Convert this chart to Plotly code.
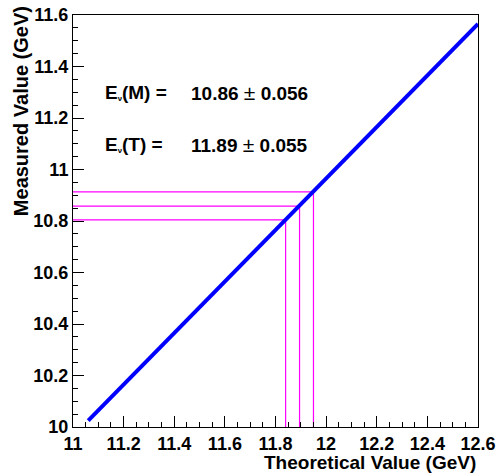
import plotly.graph_objects as go

# Data
line_x = [11.06, 12.6]
line_y = [10.025, 11.565]
mark_x = [11.84, 11.895, 11.95]
mark_y = [10.804, 10.858, 10.913]
x_range = [11.0, 12.6]
y_range = [10.0, 11.6]
x_ticks = [11.0, 11.2, 11.4, 11.6, 11.8, 12.0, 12.2, 12.4, 12.6]
x_ticklabels = ["11", "11.2", "11.4", "11.6", "11.8", "12", "12.2", "12.4", "12.6"]
y_ticks = [10.0, 10.2, 10.4, 10.6, 10.8, 11.0, 11.2, 11.4, 11.6]
y_ticklabels = ["10", "10.2", "10.4", "10.6", "10.8", "11", "11.2", "11.4", "11.6"]
labels = ["E<span style='font-size:11px'><sub>ν</sub></span>(M) =",
          "E<span style='font-size:11px'><sub>ν</sub></span>(T) ="]
values = ["10.86", "11.89"]
errors = ["0.056", "0.055"]

FONT = "Liberation Sans, Arial, sans-serif"
fig = go.Figure()

# magenta guide lines
for mx, my in zip(mark_x, mark_y):
    fig.add_trace(go.Scatter(x=[x_range[0], mx, mx], y=[my, my, y_range[0]],
                             mode="lines", line=dict(color="#ff00ff", width=1.2),
                             showlegend=False, hoverinfo="skip"))

fig.add_trace(go.Scatter(x=line_x, y=line_y, mode="lines",
                         line=dict(color="#0000ff", width=4),
                         showlegend=False))

axis_common = dict(showgrid=False, zeroline=False, showline=True, linecolor="black",
                   linewidth=1, mirror=True, ticks="inside", ticklen=11,
                   tickcolor="black", tickwidth=1, ticklabeloverflow="allow",
                   automargin=False,
                   tickfont=dict(family=FONT, size=18, color="black", weight="bold"))

fig.update_xaxes(range=[x_range[0] - 1e-6, x_range[1] + 1e-6],
                 tickmode="array", tickvals=x_ticks, ticktext=x_ticklabels,
                 minor=dict(dtick=0.05, tick0=11, ticklen=5, ticks="inside", tickcolor="black"),
                 **axis_common)
fig.update_yaxes(range=[y_range[0] - 1e-6, y_range[1] + 1e-6],
                 tickmode="array", tickvals=y_ticks, ticktext=y_ticklabels,
                 minor=dict(dtick=0.05, tick0=10, ticklen=5, ticks="inside", tickcolor="black"),
                 **axis_common)

for lab, val, err, yy in zip(labels, values, errors, [0.812, 0.686]):
    fig.add_annotation(text=f"<b>{lab}</b>", xref="paper", yref="paper",
                       x=0.074, y=yy, xanchor="left", yanchor="middle", showarrow=False,
                       font=dict(family=FONT, size=19, color="black"))
    fig.add_annotation(text=f"<b>{val}</b> <span style='font-size:21px'>±</span> <b>{err}</b>",
                       xref="paper", yref="paper",
                       x=0.584, y=yy, xanchor="right", yanchor="middle", showarrow=False,
                       font=dict(family=FONT, size=19, color="black"))

fig.add_annotation(text="<b>Theoretical Value (GeV)</b>", xref="paper", yref="paper",
                   x=1.0, y=-0.085, xanchor="right", yanchor="middle", showarrow=False,
                   font=dict(family=FONT, size=19, color="black"))
fig.add_annotation(text="<b>Measured Value (GeV)</b>", xref="paper", yref="paper",
                   x=-0.128, y=0.767, xanchor="center", yanchor="middle", textangle=-90,
                   showarrow=False, font=dict(family=FONT, size=20, color="black"))

fig.update_layout(width=497, height=473, plot_bgcolor="white", paper_bgcolor="white",
                  margin=dict(l=73, r=19, t=15, b=46))

fig.write_html("out.html", config={"displayModeBar": False},
               post_script="document.body.style.margin='0px';document.body.style.overflow='hidden';")
